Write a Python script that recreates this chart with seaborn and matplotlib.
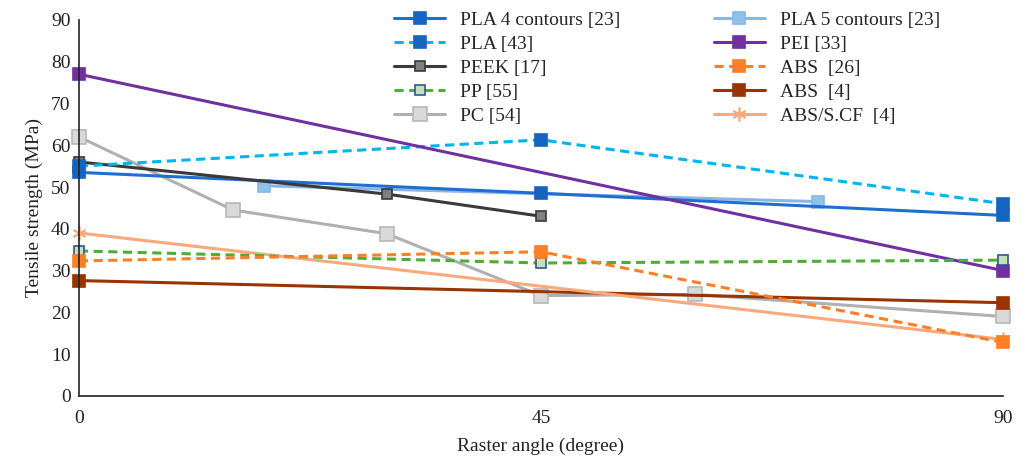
import numpy as np
import pandas as pd
import matplotlib
matplotlib.use("Agg")
import matplotlib.pyplot as plt
import seaborn as sns

# Data (x = raster angle, y = tensile strength)
pla4_x = [0, 45, 90]
pla4_y = [53.5, 48.5, 43.2]
pla5_x = [18, 72]
pla5_y = [50.3, 46.5]
pla43_x = [0, 45, 90]
pla43_y = [55.0, 61.3, 46.0]
pei_x = [0, 90]
pei_y = [77.0, 30.0]
peek_x = [0, 30, 45]
peek_y = [56.0, 48.3, 43.0]
abs26_x = [0, 45, 90]
abs26_y = [32.3, 34.5, 12.8]
pp_x = [0, 45, 90]
pp_y = [34.7, 31.8, 32.5]
abs4_x = [0, 90]
abs4_y = [27.6, 22.3]
pc_x = [0, 15, 30, 45, 60, 90]
pc_y = [62.0, 44.5, 38.8, 24.0, 24.3, 19.0]
abscf_x = [0, 90]
abscf_y = [39.0, 13.5]

x_ticks = [0, 45, 90]
y_ticks = list(range(0, 91, 10))

sns.set_theme(style="white")
plt.rcParams["font.family"] = ["Liberation Serif", "DejaVu Serif"]

fig, ax = plt.subplots(figsize=(10.25, 4.63), dpi=100)
fig.subplots_adjust(left=0.077, right=0.9785, bottom=0.145, top=0.957)

dash = (0, (3, 1.8))
series = {
    "PLA 4 contours [23]": dict(x=pla4_x, y=pla4_y, color="#1f6fd0", ls="-", marker="s",
                                ms=9, mfc="#1565c0", mec="#1565c0"),
    "PLA [43]": dict(x=pla43_x, y=pla43_y, color="#00b4f0", ls=dash, marker="s",
                     ms=9, mfc="#1565c0", mec="#1565c0"),
    "PEEK [17]": dict(x=peek_x, y=peek_y, color="#3a3a3a", ls="-", marker="s",
                      ms=7, mfc="#808080", mec="#3a3a3a"),
    "PP [55]": dict(x=pp_x, y=pp_y, color="#4caf32", ls=dash, marker="s",
                    ms=7, mfc="#c5e0b4", mec="#2f5597"),
    "PC [54]": dict(x=pc_x, y=pc_y, color="#b0b0b0", ls="-", marker="s",
                    ms=10.5, mfc="#d9d9d9", mec="#b8b8b8"),
    "PLA 5 contours [23]": dict(x=pla5_x, y=pla5_y, color="#8ab6e6", ls="-", marker="s",
                                ms=9, mfc="#8fc2ea", mec="#8ab6e6"),
    "PEI [33]": dict(x=pei_x, y=pei_y, color="#7030a0", ls="-", marker="s",
                     ms=9, mfc="#7030a0", mec="#7030a0"),
    "ABS  [26]": dict(x=abs26_x, y=abs26_y, color="#ff7f27", ls=dash, marker="s",
                      ms=9, mfc="#ff7f27", mec="#ff7f27"),
    "ABS  [4]": dict(x=abs4_x, y=abs4_y, color="#993300", ls="-", marker="s",
                     ms=9, mfc="#993300", mec="#993300"),
    "ABS/S.CF  [4]": dict(x=abscf_x, y=abscf_y, color="#f9a97a", ls="-", marker=(6, 2, 0),
                          ms=10, mfc="#f9a97a", mec="#f9a97a"),
}

draw_order = ["PC [54]", "PLA 5 contours [23]", "PLA 4 contours [23]", "PEEK [17]",
              "PLA [43]", "PEI [33]", "ABS  [4]", "ABS/S.CF  [4]", "PP [55]", "ABS  [26]"]

for name in draw_order:
    s = series[name]
    sns.lineplot(x=s["x"], y=s["y"], ax=ax, color=s["color"], linestyle=s["ls"],
                 linewidth=2.2, marker=s["marker"], markersize=s["ms"],
                 markerfacecolor=s["mfc"], markeredgecolor=s["mec"], markeredgewidth=1.2,
                 label=name, sort=False, clip_on=False)

handles, labels = ax.get_legend_handles_labels()
lookup = dict(zip(labels, handles))
legend_order = list(series.keys())
leg = ax.legend([lookup[k] for k in legend_order], legend_order, ncol=2,
                loc="upper left", bbox_to_anchor=(0.3245, 1.064), frameon=True,
                fontsize=14, handlelength=2.6, columnspacing=4.8,
                labelspacing=0.33, handletextpad=0.8, borderpad=0.3)
leg.get_frame().set_facecolor("white")
leg.get_frame().set_edgecolor("white")
leg.get_frame().set_alpha(1)

ax.set_xlim(0, 90)
ax.set_ylim(0, 90)
ax.set_xticks(x_ticks)
ax.set_yticks(y_ticks)
ax.tick_params(axis="both", direction="in", length=5, width=1, labelsize=14,
               color="#222222", labelcolor="#222222", pad=10)
ax.tick_params(axis="y", pad=6)
for side in ["top", "right"]:
    ax.spines[side].set_visible(False)
for side in ["left", "bottom"]:
    ax.spines[side].set_color("#222222")
    ax.spines[side].set_linewidth(1.2)
ax.set_xlabel("Raster angle (degree)", fontsize=14, color="#222222", labelpad=8)
ax.set_ylabel("Tensile strength (MPa)", fontsize=14, color="#222222", labelpad=6)

fig.savefig("out.png", dpi=100)
